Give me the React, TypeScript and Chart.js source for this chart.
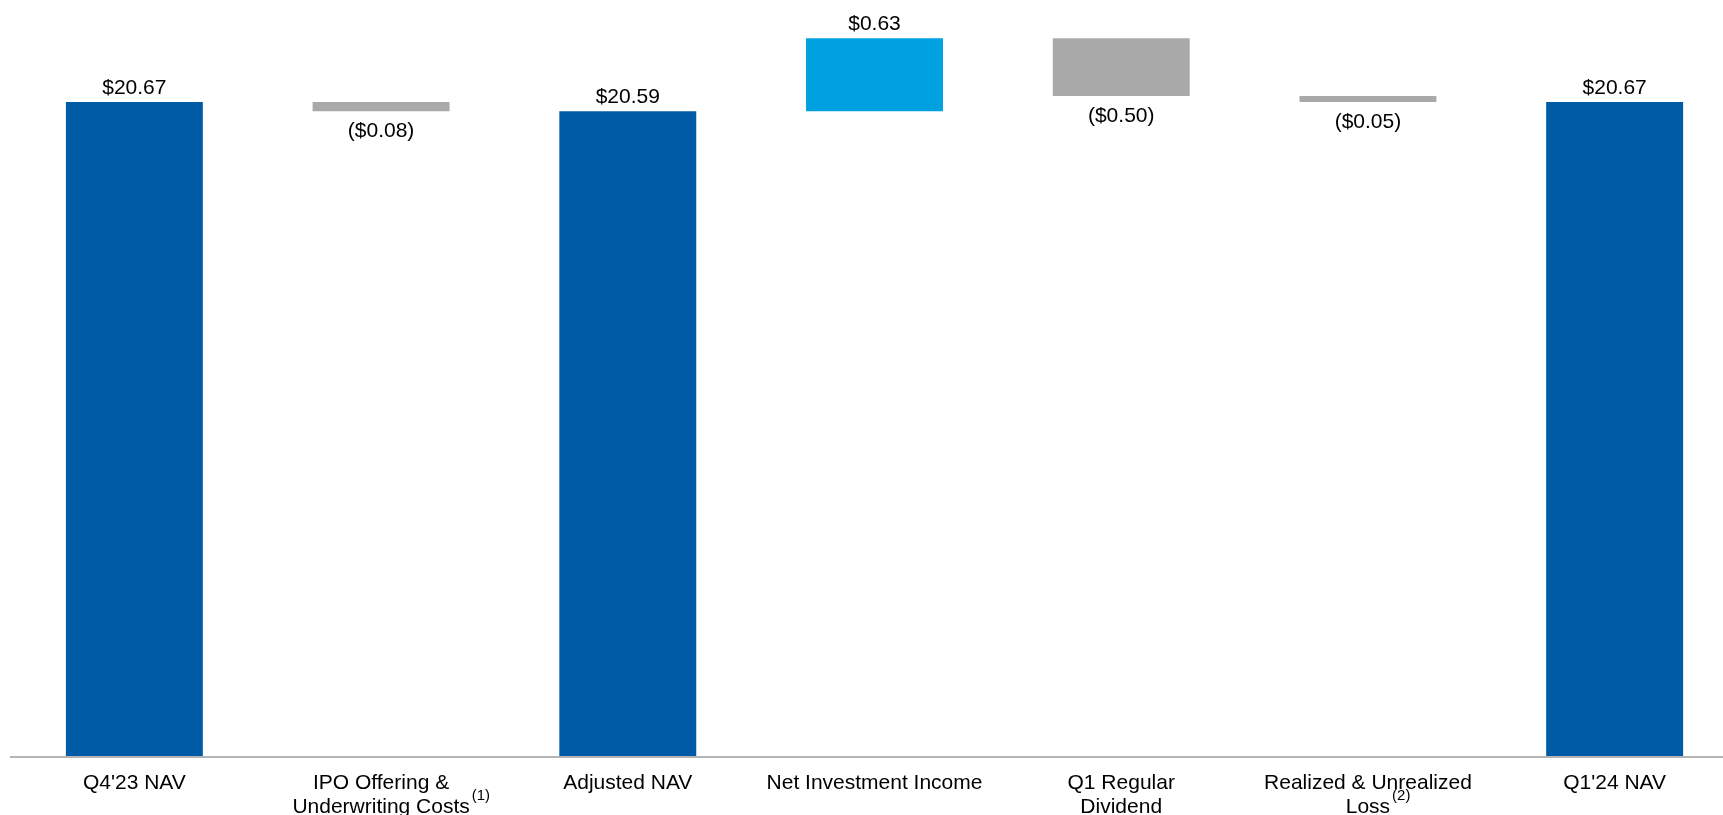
import React, { useEffect, useRef } from "react";
import { Chart, registerables } from "chart.js";

Chart.register(...registerables);

// ---- data ----
const categories: string[][] = [
  ["Q4'23 NAV"],
  ["IPO Offering &", "Underwriting Costs"],
  ["Adjusted NAV"],
  ["Net Investment Income"],
  ["Q1 Regular", "Dividend"],
  ["Realized & Unrealized", "Loss"],
  ["Q1'24 NAV"],
];
const footnotes: string[] = ["", "(1)", "", "", "", "(2)", ""];
// "total" bars stand on the axis floor, "delta" bars float from the running total
const barKinds: string[] = ["total", "delta", "total", "delta", "delta", "delta", "total"];
const barValues: number[] = [20.67, -0.08, 20.59, 0.63, -0.5, -0.05, 20.67];
const valueLabels: string[] = ["$20.67", "($0.08)", "$20.59", "$0.63", "($0.50)", "($0.05)", "$20.67"];
const Y_MIN = 15;
const Y_MAX = 21.5;
const TOTAL_BASE = 14.98;

const COLOR_TOTAL = "#005BA6";
const COLOR_UP = "#00A1E0";
const COLOR_DOWN = "#A9A9A9";
const FONT = "'Liberation Sans', Arial, sans-serif";

function buildBars() {
  const ranges: [number, number][] = [];
  const colors: string[] = [];
  let running = 0;
  barValues.forEach((v, i) => {
    if (barKinds[i] === "total") {
      ranges.push([TOTAL_BASE, v]);
      colors.push(COLOR_TOTAL);
      running = v;
    } else {
      const end = Math.round((running + v) * 100) / 100;
      ranges.push([running, end]);
      colors.push(v >= 0 ? COLOR_UP : COLOR_DOWN);
      running = end;
    }
  });
  return { ranges, colors };
}

const labelPlugin = {
  id: "valueLabels",
  afterDatasetsDraw(chart: any) {
    const ctx = chart.ctx;
    const meta = chart.getDatasetMeta(0);
    ctx.save();
    ctx.font = `21px ${FONT}`;
    ctx.fillStyle = "#000";
    ctx.textAlign = "center";
    meta.data.forEach((bar: any, i: number) => {
      const top = Math.min(bar.y, bar.base);
      const bottom = Math.max(bar.y, bar.base);
      if (barValues[i] < 0) {
        ctx.textBaseline = "top";
        ctx.fillText(valueLabels[i], bar.x, bottom + 10);
      } else {
        ctx.textBaseline = "alphabetic";
        ctx.fillText(valueLabels[i], bar.x, top - 8);
      }
    });
    // footnote superscripts on the tick labels
    const xs = chart.scales.x;
    footnotes.forEach((f, i) => {
      if (!f) return;
      const lines = categories[i];
      ctx.font = `21px ${FONT}`;
      const w = ctx.measureText(lines[lines.length - 1]).width;
      const x = xs.getPixelForTick(i) + w / 2 + 2;
      ctx.font = `15px ${FONT}`;
      ctx.textAlign = "left";
      ctx.textBaseline = "alphabetic";
      ctx.fillText(f, x, chart.chartArea.bottom + 43);
    });
    ctx.restore();
  },
};

export default function App() {
  const ref = useRef<HTMLCanvasElement | null>(null);
  useEffect(() => {
    if (!ref.current) return;
    const { ranges, colors } = buildBars();
    const chart = new Chart(ref.current, {
      type: "bar",
      data: {
        labels: categories,
        datasets: [
          {
            data: ranges as any,
            backgroundColor: colors,
            borderWidth: 0,
            barPercentage: 0.555,
            categoryPercentage: 1,
          },
        ],
      },
      options: {
        animation: false,
        responsive: false,
        devicePixelRatio: 1,
        layout: { padding: { left: 11, right: 2, top: 6, bottom: 0 } },
        plugins: { legend: { display: false }, tooltip: { enabled: false }, title: { display: false } },
        scales: {
          x: {
            grid: { display: false, drawTicks: false },
            border: { display: true, color: "#B4B4B4", width: 2, z: 1 },
            ticks: {
              font: { family: FONT, size: 21, lineHeight: 1.15 },
              color: "#000",
              padding: 14,
              maxRotation: 0,
              autoSkip: false,
            },
            afterFit: (scale: any) => {
              scale.height = 58;
            },
          },
          y: {
            display: false,
            min: Y_MIN,
            max: Y_MAX,
          },
        },
      },
      plugins: [labelPlugin],
    });
    return () => chart.destroy();
  }, []);
  return (
    <div
      style={{
        position: "fixed",
        left: 0,
        top: 0,
        width: 1723,
        height: 815,
        overflow: "hidden",
        background: "#fff",
      }}
    >
      <canvas ref={ref} width={1740} height={815} style={{ width: 1740, height: 815, display: "block" }} />
    </div>
  );
}
